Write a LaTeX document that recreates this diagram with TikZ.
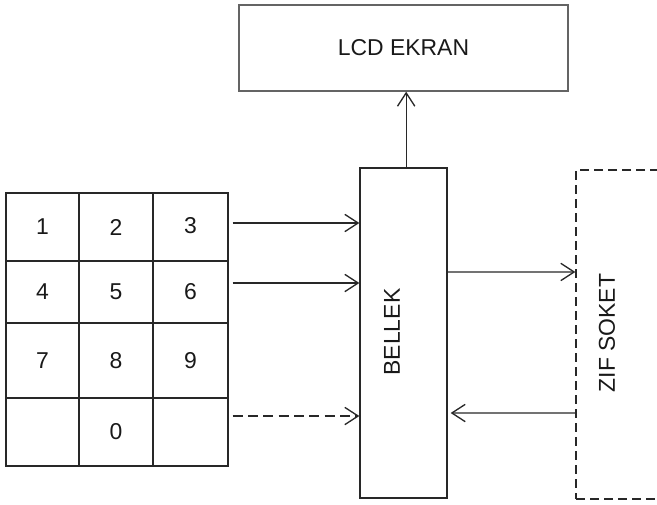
\documentclass[tikz,border=0pt]{standalone}
\usepackage{fontspec}
\setmainfont{Liberation Sans}
\usetikzlibrary{arrows.meta, positioning}
\definecolor{LN}{RGB}{40,40,40}
\definecolor{LG}{RGB}{100,100,100}

\begin{document}
\begin{tikzpicture}[x=0.75pt, y=-0.75pt,
    box/.style={draw=LN, line width=1pt, inner sep=0pt},
    txt/.style={font=\fontsize{17.2}{20}\selectfont, text=black!90},
    key/.style={box, txt},
    arr/.style={draw=LN, line width=1pt,
        -{Straight Barb[length=10pt, width=13pt, line width=1pt]}},
    dashline/.style={dash pattern=on 7.5pt off 4pt}]

    %% --- frame ---
    \useasboundingbox (0,0) rectangle (657,504);
    \clip (0,0) rectangle (657,504);

    %% --- main blocks ---
    \node[box, draw=LG, txt, minimum width=246.75pt, minimum height=64.5pt]
        (lcd) at (403.5,48) {LCD EKRAN};
    \node[box, minimum width=65.25pt, minimum height=247.5pt]
        (bellek) at (403.5,333) {};
    \node[txt, rotate=90] (bellekLbl) at (392,332) {BELLEK};

    %% ZIF socket runs off the right edge
    \node[box, dash pattern=on 6.5pt off 4pt, minimum width=123pt, minimum height=246.75pt]
        (zif) at (658,334.5) {};
    \node[txt, rotate=90] (zifLbl) at (607,333) {ZIF SOKET};

    %% --- keypad (3 x 4) ---
    \node[key, minimum width=54.75pt, minimum height=51pt]    (k1)  at (42.5,227)  {1};
    \node[key, minimum width=55.5pt,  minimum height=51pt]    (k2)  at (116,227)   {2};
    \node[key, minimum width=56.25pt, minimum height=51pt]    (k3)  at (190.5,227) {\raisebox{2.5pt}{3}};
    \node[key, minimum width=54.75pt, minimum height=46.5pt]  (k4)  at (42.5,292)  {4};
    \node[key, minimum width=55.5pt,  minimum height=46.5pt]  (k5)  at (116,292)   {5};
    \node[key, minimum width=56.25pt, minimum height=46.5pt]  (k6)  at (190.5,292) {6};
    \node[key, minimum width=54.75pt, minimum height=56.25pt] (k7)  at (42.5,360.5)  {7};
    \node[key, minimum width=55.5pt,  minimum height=56.25pt] (k8)  at (116,360.5)   {8};
    \node[key, minimum width=56.25pt, minimum height=56.25pt] (k9)  at (190.5,360.5) {9};
    \node[key, minimum width=54.75pt, minimum height=51pt]    (kL)  at (42.5,432)  {};
    \node[key, minimum width=55.5pt,  minimum height=51pt]    (k0)  at (116,432)   {0};
    \node[key, minimum width=56.25pt, minimum height=51pt]    (kR)  at (190.5,432) {};

    %% --- connectors ---
    \draw[arr] ([shift={(3pt,3pt)}]k3.east) -- ([yshift=82.5pt]bellek.west);
    \draw[arr] ([shift={(3pt,6.75pt)}]k6.east) -- ([yshift=37.5pt]bellek.west);
    \draw[arr, dashline] ([shift={(3pt,12pt)}]kR.east) -- ([yshift=-62.25pt]bellek.west);

    \draw[arr] ([xshift=2pt]bellek.north) -- ([xshift=2pt]lcd.south);
    \draw[arr] ([yshift=45.75pt]bellek.east) -- ([yshift=46.9pt]zif.west);
    \draw[arr] ([yshift=-58.9pt]zif.west) -- ([shift={(2.25pt,-60pt)}]bellek.east);

\end{tikzpicture}
\end{document}
